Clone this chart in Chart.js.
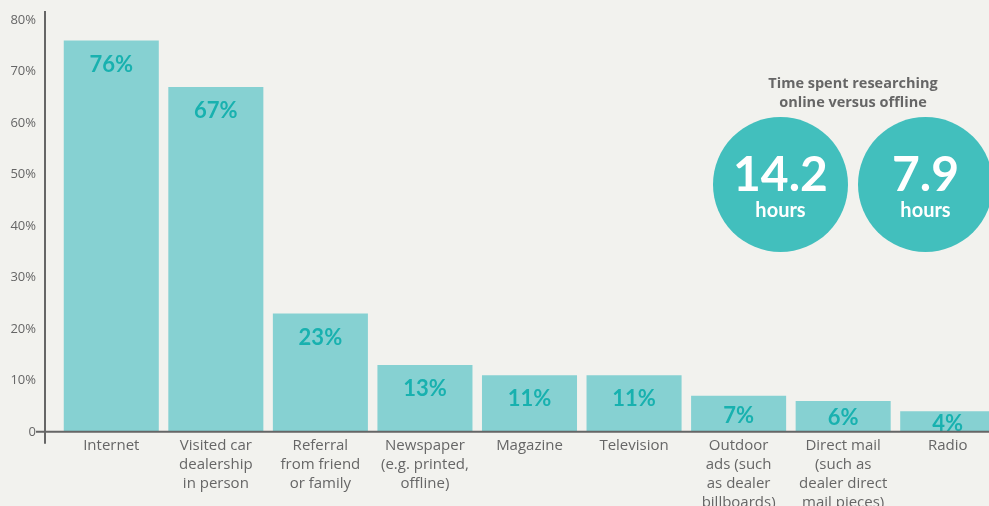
<!DOCTYPE html>
<html>
<head>
<meta charset="utf-8">
<script src="https://cdn.jsdelivr.net/npm/chart.js@4.4.1/dist/chart.umd.min.js"></script>
<style>
  body { margin: 0; background: #f2f2ee; overflow: hidden; width: 989px; height: 506px; position: relative; font-family: Lato, sans-serif; }
  #wrap { position: absolute; left: 0; top: 0; width: 1000px; height: 520px; }
  .title { position: absolute; left: 753px; top: 73px; width: 200px; text-align: center; color: #666; font-family: 'Open Sans', sans-serif; font-weight: bold; font-size: 14.5px; line-height: 19px; }
  .circle { position: absolute; top: 117px; width: 135px; height: 135px; border-radius: 50%; background: #42bfbd; color: #fff; }
  .big { position: absolute; left: 0; right: 0; top: 32px; text-align: center; font-weight: bold; font-size: 48px; line-height: 48px; }
  .unit { position: absolute; left: 0; right: 0; top: 82px; text-align: center; font-weight: bold; font-size: 20px; line-height: 20px; }
</style>
</head>
<body>
<div id="wrap"><canvas id="myChart" width="1000" height="520"></canvas></div>
<div class="title" id="title"></div>
<div id="circles"></div>
<script>
'use strict';

// data
const categories = [
    ["Internet"],
    ["Visited car", "dealership", "in person"],
    ["Referral", "from friend", "or family"],
    ["Newspaper", "(e.g. printed,", "offline)"],
    ["Magazine"],
    ["Television"],
    ["Outdoor", "ads (such", "as dealer", "billboards)"],
    ["Direct mail", "(such as", "dealer direct", "mail pieces)"],
    ["Radio"]
];
const shares = [76, 67, 23, 13, 11, 11, 7, 6, 4];
const yTicks = [0, 10, 20, 30, 40, 50, 60, 70, 80];

const hoursTitle = ["Time spent researching", "online versus offline"];
const hoursLabels = ["online", "offline"];
const hoursValues = [14.2, 7.9];

const grey = '#666666';
const barColor = '#86d1d2';
const labelColor = '#18b1af';

// circles on the right (html)
document.getElementById('title').innerHTML = hoursTitle.join('<br>');
const circleLeft = [713, 858];
let html = '';
hoursValues.forEach((v, i) => {
    html += '<div class="circle" style="left:' + circleLeft[i] + 'px" title="' + hoursLabels[i] + '">' +
        '<div class="big">' + v.toFixed(1) + '</div><div class="unit">hours</div></div>';
});
document.getElementById('circles').innerHTML = html;

// value labels inside the bars
const barLabels = {
    id: 'barLabels',
    afterDatasetsDraw(chart) {
        const c = chart.ctx;
        const meta = chart.getDatasetMeta(0);
        c.save();
        c.font = 'bold 22px Lato';
        c.fillStyle = labelColor;
        c.textAlign = 'center';
        c.textBaseline = 'middle';
        meta.data.forEach((bar, i) => {
            const h = bar.base - bar.y;
            const off = Math.min(24, h / 2 + 2);
            c.fillText(shares[i] + '%', bar.x, bar.y + off);
        });
        c.restore();
    }
};

// axis lines: vertical line sits a bit left of the first bar
const axisLines = {
    id: 'axisLines',
    afterDraw(chart) {
        const c = chart.ctx;
        const y0 = chart.scales.y.getPixelForValue(0);
        const ax = chart.chartArea.left - 14;
        c.save();
        c.strokeStyle = grey;
        c.lineWidth = 2;
        c.beginPath();
        c.moveTo(ax, chart.chartArea.top - 9);
        c.lineTo(ax, y0 + 12);
        c.moveTo(ax - 9, y0);
        c.lineTo(chart.width, y0);
        c.stroke();
        c.restore();
    }
};

const ctx = document.getElementById('myChart').getContext('2d');
const myChart = new Chart(ctx, {
    type: 'bar',
    data: {
        labels: categories,
        datasets: [{
            data: shares,
            backgroundColor: barColor,
            borderWidth: 0,
            categoryPercentage: 1,
            barPercentage: 0.909
        }]
    },
    options: {
        responsive: false,
        animation: false,
        layout: { padding: { top: 20, right: 0, bottom: 4, left: 0 } },
        plugins: { legend: { display: false }, tooltip: { enabled: false } },
        scales: {
            x: {
                grid: { display: false, drawTicks: false },
                border: { display: false },
                ticks: {
                    color: grey,
                    padding: 4,
                    maxRotation: 0,
                    autoSkip: false,
                    font: { family: 'Open Sans', size: 15, lineHeight: 1.27 }
                }
            },
            y: {
                min: 0,
                max: 80,
                afterFit(scale) {
                    scale.width = 59;
                    scale.paddingTop = 0;
                    scale.paddingBottom = 0;
                },
                afterBuildTicks(scale) { scale.ticks = yTicks.map(v => ({ value: v })); },
                grid: { display: false, drawTicks: false },
                border: { display: false },
                ticks: {
                    color: grey,
                    padding: 23,
                    font: { family: 'Open Sans', size: 13 },
                    callback: v => v === 0 ? '0' : v + '%'
                }
            }
        }
    },
    plugins: [barLabels, axisLines]
});
</script>
</body>
</html>
